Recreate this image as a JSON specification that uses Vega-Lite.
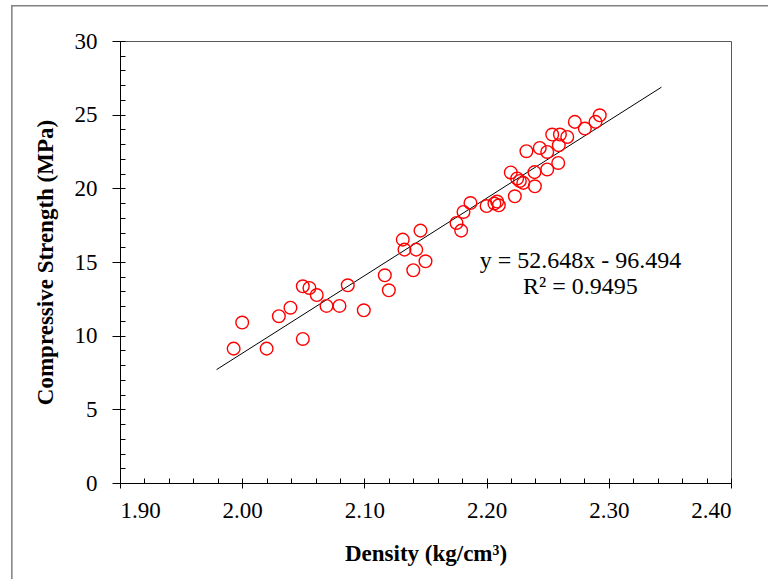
{
  "$schema": "https://vega.github.io/schema/vega-lite/v6.json",
  "width": 611,
  "height": 442,
  "autosize": {"type": "none"},
  "padding": {"left": 120, "top": 41, "right": 37, "bottom": 96},
  "background": "white",
  "config": {
    "view": {"stroke": "#595959", "strokeWidth": 1},
    "axis": {"grid": false, "domainColor": "black", "tickColor": "black", "labelColor": "black", "titleColor": "black", "labelFont": "Liberation Serif", "titleFont": "Liberation Serif", "labelFontSize": 23, "titleFontSize": 23, "titleFontWeight": "bold"}
  },
  "datasets": {
    "pts": [
      {"density": 1.993, "strength": 9.12},
      {"density": 2.000, "strength": 10.89},
      {"density": 2.020, "strength": 9.12},
      {"density": 2.030, "strength": 11.32},
      {"density": 2.0395, "strength": 11.90},
      {"density": 2.0496, "strength": 13.35},
      {"density": 2.0496, "strength": 9.78},
      {"density": 2.055, "strength": 13.24},
      {"density": 2.061, "strength": 12.76},
      {"density": 2.069, "strength": 12.02},
      {"density": 2.0796, "strength": 12.02},
      {"density": 2.0864, "strength": 13.42},
      {"density": 2.0995, "strength": 11.72},
      {"density": 2.1167, "strength": 14.10},
      {"density": 2.120, "strength": 13.08},
      {"density": 2.1314, "strength": 16.52},
      {"density": 2.1328, "strength": 15.84},
      {"density": 2.140, "strength": 14.44},
      {"density": 2.1424, "strength": 15.84},
      {"density": 2.1459, "strength": 17.13},
      {"density": 2.150, "strength": 15.05},
      {"density": 2.1754, "strength": 17.65},
      {"density": 2.1792, "strength": 17.13},
      {"density": 2.1811, "strength": 18.40},
      {"density": 2.1868, "strength": 19.00},
      {"density": 2.2000, "strength": 18.80},
      {"density": 2.2064, "strength": 18.97},
      {"density": 2.2086, "strength": 19.10},
      {"density": 2.2100, "strength": 18.85},
      {"density": 2.2198, "strength": 21.08},
      {"density": 2.2231, "strength": 19.46},
      {"density": 2.2250, "strength": 20.67},
      {"density": 2.2272, "strength": 20.50},
      {"density": 2.2300, "strength": 20.37},
      {"density": 2.2326, "strength": 22.52},
      {"density": 2.2392, "strength": 21.10},
      {"density": 2.2395, "strength": 20.14},
      {"density": 2.2435, "strength": 22.74},
      {"density": 2.2496, "strength": 22.47},
      {"density": 2.2496, "strength": 21.28},
      {"density": 2.2586, "strength": 21.72},
      {"density": 2.2537, "strength": 23.65},
      {"density": 2.2591, "strength": 22.93},
      {"density": 2.2600, "strength": 23.65},
      {"density": 2.2660, "strength": 23.49},
      {"density": 2.2722, "strength": 24.51},
      {"density": 2.2804, "strength": 24.06},
      {"density": 2.2891, "strength": 24.51},
      {"density": 2.2926, "strength": 24.96}
    ],
    "trend": [
      {"density": 1.979, "strength": 7.696},
      {"density": 2.3431, "strength": 26.866}
    ],
    "notes": [
      {"density": 2.2768, "strength": 15.07, "label": "y = 52.648x - 96.494"},
      {"density": 2.2768, "strength": 13.31, "label": "R² = 0.9495"}
    ],
    "frame": [
      {"x0": 1.8115, "x1": 2.46, "y0": -8, "y1": 32.4}
    ]
  },
  "layer": [
    {
      "data": {"name": "frame"},
      "mark": {"type": "rect", "fill": null, "fillOpacity": 0, "stroke": "#808080", "strokeWidth": 1.5, "clip": false},
      "encoding": {
        "x": {"field": "x0", "type": "quantitative", "scale": {"domain": [1.9, 2.4], "nice": false, "zero": false}, "axis": null},
        "x2": {"field": "x1"},
        "y": {"field": "y0", "type": "quantitative", "scale": {"domain": [0, 30], "nice": false}, "axis": null},
        "y2": {"field": "y1"}
      }
    },
    {
      "data": {"name": "trend"},
      "mark": {"type": "line", "color": "black", "strokeWidth": 1},
      "encoding": {
        "x": {"field": "density", "type": "quantitative", "scale": {"domain": [1.9, 2.4], "nice": false, "zero": false},
          "axis": {"orient": "bottom", "values": [1.9,1.92,1.94,1.96,1.98,2.0,2.02,2.04,2.06,2.08,2.1,2.12,2.14,2.16,2.18,2.2,2.22,2.24,2.26,2.28,2.3,2.32,2.34,2.36,2.38,2.4], "labels": false, "domain": false, "tickSize": -5, "title": null}},
        "y": {"field": "strength", "type": "quantitative", "scale": {"domain": [0, 30], "nice": false},
          "axis": {"orient": "left", "values": [0,1,2,3,4,5,6,7,8,9,10,11,12,13,14,15,16,17,18,19,20,21,22,23,24,25,26,27,28,29,30], "labels": false, "domain": false, "tickSize": -5, "title": null}}
      }
    },
    {
      "data": {"name": "pts"},
      "mark": {"type": "point", "shape": "circle", "filled": false, "color": "#FF0000", "size": 160, "strokeWidth": 1.4, "opacity": 1},
      "encoding": {
        "x": {"field": "density", "type": "quantitative", "scale": {"domain": [1.9, 2.4], "nice": false, "zero": false},
          "axis": {"orient": "bottom", "values": [1.9, 2.0, 2.1, 2.2, 2.3, 2.4], "format": ".2f", "tickSize": 5, "labelPadding": 11, "title": "Density (kg/cm³)", "titleX": 305.5, "titleY": 70, "titleBaseline": "middle", "titleAlign": "center"}},
        "y": {"field": "strength", "type": "quantitative", "scale": {"domain": [0, 30], "nice": false},
          "axis": {"orient": "left", "values": [0, 5, 10, 15, 20, 25, 30], "tickSize": 8, "labelPadding": 15, "title": "Compressive Strength (MPa)", "titleX": -75, "titleY": 221, "titleBaseline": "middle", "titleAlign": "center", "titleAngle": -90}}
      }
    },
    {
      "data": {"name": "notes"},
      "mark": {"type": "text", "font": "Liberation Serif", "fontSize": 24, "color": "black", "align": "center", "baseline": "middle"},
      "encoding": {
        "x": {"field": "density", "type": "quantitative", "scale": {"domain": [1.9, 2.4], "nice": false, "zero": false}, "axis": null},
        "y": {"field": "strength", "type": "quantitative", "scale": {"domain": [0, 30], "nice": false}, "axis": null},
        "text": {"field": "label"}
      }
    }
  ],
  "resolve": {"axis": {"x": "independent", "y": "independent"}}
}
